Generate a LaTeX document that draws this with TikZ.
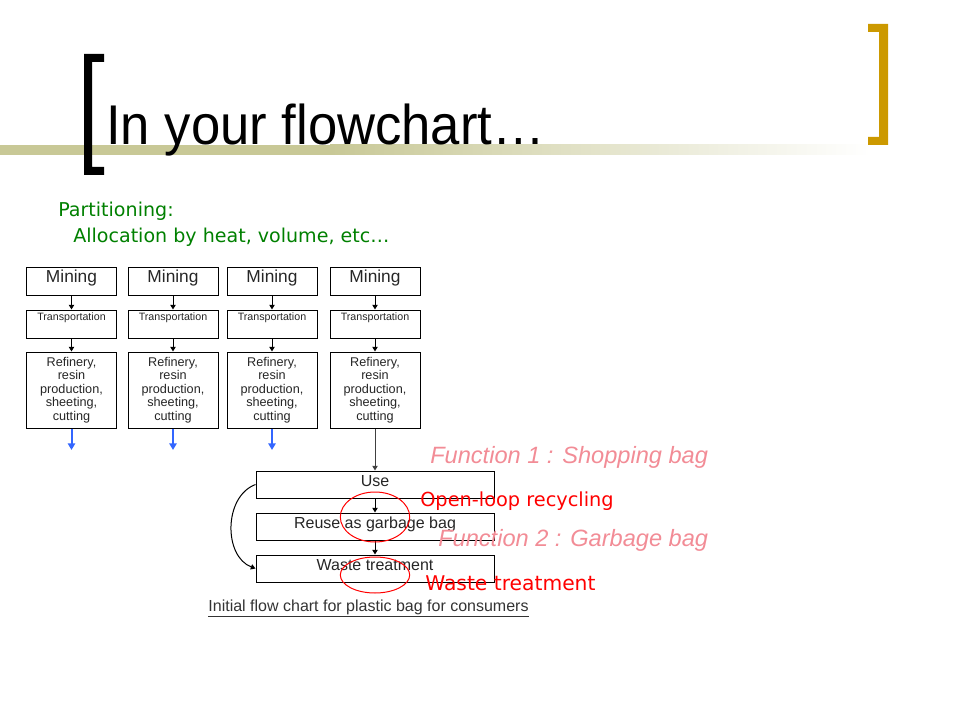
\documentclass[tikz,border=0pt]{standalone}
\usepackage{fontspec}
\setmainfont{Liberation Sans}
\newfontfamily\handfont{DejaVu Sans}
\newfontfamily\titlefont[FakeStretch=0.94]{Liberation Sans}
\usepackage{xcolor}
\usepackage{tikz}
\usetikzlibrary{calc,arrows.meta}
\definecolor{barolive}{RGB}{200,200,150}
\definecolor{bracketgold}{RGB}{204,153,0}
\definecolor{funcpink}{RGB}{242,140,150}
\definecolor{arrowblue}{RGB}{51,102,255}
\definecolor{notegreen}{RGB}{0,128,0}
\tikzset{>={Triangle[length=3.5pt,width=4pt]}}
\tikzset{
  box/.style={draw=black, line width=0.75pt, inner xsep=2pt, inner ysep=2pt, align=center, text=black!85},
  minebox/.style={box, minimum width=67.5pt, text height=9.25pt, text depth=7.75pt, font=\fontsize{13}{15}\selectfont},
  transbox/.style={box, minimum width=67.5pt, text height=5.9pt, text depth=11.1pt, font=\fontsize{8}{9}\selectfont},
  refbox/.style={box, minimum width=67.5pt, minimum height=57pt, font=\fontsize{9.5}{10.1}\selectfont},
  usebox/.style={box, minimum width=178.5pt, text height=9.25pt, text depth=7pt, font=\fontsize{12}{14}\selectfont},
  bluearrow/.style={-{Triangle[length=5pt,width=5.5pt]}, arrowblue, line width=1.5pt},
}

\begin{document}
\begin{tikzpicture}[x=0.75pt, y=-0.75pt]
            \useasboundingbox (0,0) rectangle (960,720);

            % Title bar and brackets
            \fill[barolive] (0,145) rectangle (330,155);
            \shade[left color=barolive, right color=white] (330,145) rectangle (870,155);
            \fill[black] (104,54) -- (84,54) -- (84,175) -- (104,175) -- (104,167) -- (92,167) -- (92,62) -- (104,62) -- cycle;
            \fill[bracketgold] (868,24) -- (888,24) -- (888,145) -- (868,145) -- (868,137) -- (879,137) -- (879,32) -- (868,32) -- cycle;
            \node[anchor=base west, inner sep=0pt, font=\titlefont\fontsize{42}{48}\selectfont] (title) at (106,145) {In your flowchart…};

            % Partitioning note
            \node[anchor=base west, inner sep=0pt, text=notegreen, font=\handfont\fontsize{14.3}{17}\selectfont] (part) at (58,217) {Partitioning:};
            \node[anchor=base west, inner sep=0pt, text=notegreen, font=\handfont\fontsize{14.3}{17}\selectfont] (alloc) at (73,243) {Allocation by heat, volume, etc…};

            % Four production chains
            \node[minebox] (mine1) at (71.5,282) {Mining};
            \node[minebox] (mine2) at (173,282) {Mining};
            \node[minebox] (mine3) at (272,282) {Mining};
            \node[minebox] (mine4) at (375,282) {Mining};
            \node[transbox] (trans1) at (71.5,324) {Transportation};
            \node[transbox] (trans2) at (173,324) {Transportation};
            \node[transbox] (trans3) at (272,324) {Transportation};
            \node[transbox] (trans4) at (375,324) {Transportation};
            \node[refbox] (ref1) at (71.5,390) {Refinery,\\resin\\production,\\sheeting,\\cutting};
            \node[refbox] (ref2) at (173,390) {Refinery,\\resin\\production,\\sheeting,\\cutting};
            \node[refbox] (ref3) at (272,390) {Refinery,\\resin\\production,\\sheeting,\\cutting};
            \node[refbox] (ref4) at (375,390) {Refinery,\\resin\\production,\\sheeting,\\cutting};
            \coordinate (out1) at (71.5,450);
            \coordinate (out2) at (173,450);
            \coordinate (out3) at (272,450);

            % Use and end of life
            \node[usebox] (use) at (375,484.5) {Use};
            \node[usebox] (reuse) at (375,526.5) {Reuse as garbage bag};
            \node[usebox] (waste) at (375,568.5) {Waste treatment};

            % Arrows along the chains
            \draw[->, line width=0.75pt] (mine1) -- (trans1);
            \draw[->, line width=0.75pt] (mine2) -- (trans2);
            \draw[->, line width=0.75pt] (mine3) -- (trans3);
            \draw[->, line width=0.75pt] (mine4) -- (trans4);
            \draw[->, line width=0.75pt] (trans1) -- (ref1);
            \draw[->, line width=0.75pt] (trans2) -- (ref2);
            \draw[->, line width=0.75pt] (trans3) -- (ref3);
            \draw[->, line width=0.75pt] (trans4) -- (ref4);
            \draw[bluearrow] (ref1) -- (out1);
            \draw[bluearrow] (ref2) -- (out2);
            \draw[bluearrow] (ref3) -- (out3);
            \draw[->, line width=0.75pt, black!75] (ref4) -- (use);
            \draw[->, line width=0.75pt] (use) -- (reuse);
            \draw[->, line width=0.75pt] (reuse) -- (waste);
            \draw[->, line width=0.75pt] (use.west) .. controls +(-32,12) and +(-32,-12) .. (waste.west);

            % Caption
            \node[anchor=base, inner sep=0pt, text=black!80, font=\fontsize{12}{14}\selectfont] (caption) at (368.5,611) {\underline{Initial flow chart for plastic bag for consumers}};

            % Functions and red marks
            \node[anchor=base west, inner sep=0pt, text=funcpink, font=\itshape\fontsize{17.7}{21}\selectfont] (func1) at (430,463) {Function 1 : Shopping bag};
            \node[anchor=base west, inner sep=0pt, text=funcpink, font=\itshape\fontsize{17.7}{21}\selectfont] (func2) at (438,546.7) {Function 2 : Garbage bag};
            \node[anchor=base west, inner sep=0pt, text=red, font=\handfont\fontsize{14.5}{17}\selectfont] (openloop) at (420,506) {Open-loop recycling};
            \node[anchor=base west, inner sep=0pt, text=red, font=\handfont\fontsize{15.2}{18}\selectfont] (wastenote) at (425,590) {Waste treatment};
            \draw[red, line width=0.75pt] (375,517) ellipse [x radius=34.7, y radius=25];
            \draw[red, line width=0.75pt] (375,575) ellipse [x radius=34.7, y radius=18];

        \end{tikzpicture}
\end{document}
